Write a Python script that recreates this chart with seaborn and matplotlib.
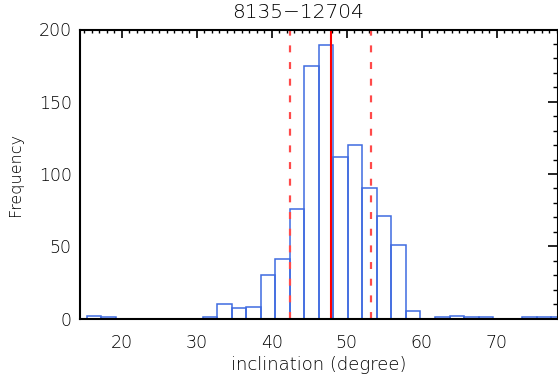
import numpy as np
import pandas as pd
import matplotlib
matplotlib.use("Agg")
import matplotlib.pyplot as plt
from matplotlib.ticker import MultipleLocator
import seaborn as sns

# histogram: 2-degree-ish bins starting at 15.33 deg
bin_start = 15.33
bin_width = 1.935
counts = [2, 1, 0, 0, 0, 0, 0, 0, 1, 10, 7, 8, 30, 41, 76, 175, 189,
          112, 120, 90, 71, 51, 5, 0, 1, 2, 1, 1, 0, 0, 1, 1, 1]

mean_incl = 47.85
std_incl = 5.43

title = "8135\u221212704"
xlabel = "inclination (degree)"
ylabel = "Frequency"

edges = bin_start + bin_width * np.arange(len(counts) + 1)
df = pd.DataFrame({"incl": 0.5 * (edges[:-1] + edges[1:]), "n": counts})

sns.set_style("white")
plt.rcParams["font.family"] = ["DejaVu Sans"]
plt.rcParams["font.weight"] = "light"
plt.rcParams["axes.labelweight"] = "light"
plt.rcParams["lines.scale_dashes"] = False

fig = plt.figure(figsize=(5.58, 3.83), dpi=100)
ax = fig.add_axes([80 / 558, 1 - 318.5 / 383, 477.5 / 558, 289 / 383])

sns.histplot(data=df, x="incl", weights="n", bins=list(edges), fill=False,
             element="bars", color="#3f6be0", linewidth=1.1, ax=ax)

ax.axvline(mean_incl, color="#ff0000", lw=1.5)
for v in (mean_incl - std_incl, mean_incl + std_incl):
    ax.axvline(v, color="#ff4a4a", lw=1.6, dashes=(5, 7))

ax.set_xlim(14.44, 78.1)
ax.set_ylim(0, 200)
ax.xaxis.set_major_locator(MultipleLocator(10))
ax.xaxis.set_minor_locator(MultipleLocator(1))
ax.yaxis.set_major_locator(MultipleLocator(50))
ax.yaxis.set_minor_locator(MultipleLocator(10))

txt = "black"
ax.tick_params(axis="x", which="major", direction="in", top=True, length=5.5,
               width=1.2, pad=11, labelsize=12.5, colors="black", labelcolor=txt)
ax.tick_params(axis="x", which="minor", direction="in", top=True, length=2.5,
               width=1.0, colors="black")
ax.tick_params(axis="y", which="major", direction="in", right=True, length=7,
               width=1.2, pad=6, labelsize=12.5, colors="black", labelcolor=txt)
ax.tick_params(axis="y", which="minor", direction="in", right=True, length=3.6,
               width=1.0, colors="black")

for side, sp in ax.spines.items():
    sp.set_visible(True)
    sp.set_color("black")
    sp.set_linewidth(1.5)

ax.set_xlabel(xlabel, fontsize=13, color=txt, labelpad=3)
ax.set_ylabel(ylabel, fontsize=11.5, color=txt, labelpad=11)
fig.text(298 / 558, 1 - 12 / 383, title, fontsize=14.5, color=txt,
         ha="center", va="center")

fig.savefig("out.png", dpi=100)
